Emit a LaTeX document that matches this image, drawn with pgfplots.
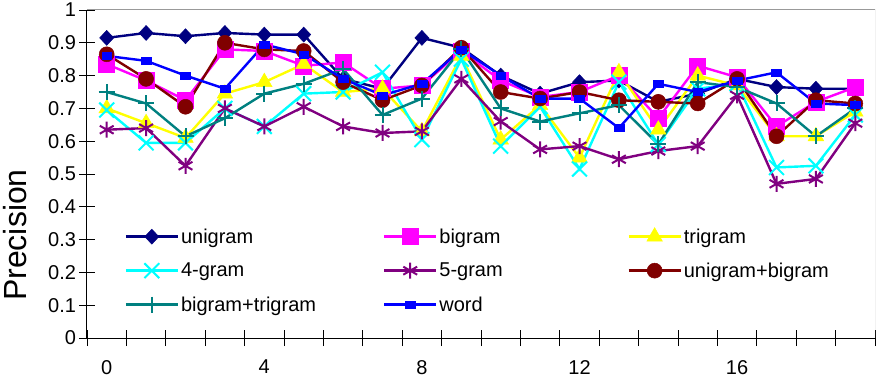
\documentclass[border=0pt]{standalone}
\usepackage{fontspec}
\setmainfont{Liberation Sans}
\usepackage{pgfplots}
\pgfplotsset{compat=1.18}
\usepackage{pgfplotstable}

\definecolor{cNavy}{RGB}{0,0,128}
\definecolor{cMag}{RGB}{255,0,255}
\definecolor{cYel}{RGB}{255,255,0}
\definecolor{cCyan}{RGB}{0,255,255}
\definecolor{cPurp}{RGB}{128,0,128}
\definecolor{cMaroon}{RGB}{128,0,0}
\definecolor{cTeal}{RGB}{0,128,128}
\definecolor{cBlue}{RGB}{0,0,255}

\pgfplotstableread{
x  uni   bi    tri   four  five  unibi bitri word
0  0.915 0.835 0.700 0.695 0.635 0.865 0.750 0.860
1  0.930 0.785 0.655 0.595 0.640 0.790 0.715 0.845
2  0.920 0.725 0.610 0.595 0.525 0.705 0.615 0.800
3  0.930 0.880 0.745 0.700 0.700 0.900 0.670 0.760
4  0.925 0.875 0.780 0.645 0.645 0.880 0.745 0.895
5  0.925 0.830 0.835 0.745 0.705 0.875 0.775 0.865
6  0.790 0.840 0.750 0.750 0.645 0.780 0.820 0.790
7  0.760 0.760 0.760 0.810 0.625 0.725 0.680 0.740
8  0.915 0.770 0.630 0.605 0.630 0.770 0.730 0.775
9  0.885 0.875 0.860 0.850 0.790 0.885 0.880 0.880
10 0.800 0.785 0.605 0.585 0.660 0.750 0.700 0.800
11 0.745 0.735 0.710 0.705 0.575 0.730 0.660 0.730
12 0.780 0.750 0.550 0.515 0.585 0.750 0.685 0.730
13 0.785 0.800 0.810 0.780 0.545 0.725 0.710 0.640
14 0.720 0.670 0.635 0.590 0.570 0.720 0.590 0.775
15 0.745 0.830 0.800 0.760 0.585 0.715 0.780 0.750
16 0.790 0.795 0.770 0.775 0.740 0.790 0.765 0.785
17 0.765 0.645 0.615 0.520 0.470 0.615 0.715 0.810
18 0.760 0.720 0.615 0.525 0.485 0.725 0.615 0.715
19 0.760 0.765 0.690 0.680 0.655 0.715 0.700 0.710
}\data

\begin{document}
\begin{tikzpicture}
\path[use as bounding box] (-87pt,-45pt) rectangle (790pt,338pt);
\begin{axis}[
  at={(0,0)}, anchor=south west,
  scale only axis, width=788pt, height=328pt,
  xmin=-0.5, xmax=19.5, ymin=0, ymax=1,
  axis x line*=bottom, axis y line*=left,
  axis line style={black, line width=1pt},
  xtick={0,4,8,12,16}, xticklabels={0,4,8,12,16},
  major x tick style={draw=none},
  minor xtick={-0.5,0.5,1.5,2.5,3.5,4.5,5.5,6.5,7.5,8.5,9.5,10.5,11.5,12.5,13.5,14.5,15.5,16.5,17.5,18.5,19.5},
  ytick={0,0.1,0.2,0.3,0.4,0.5,0.6,0.7,0.8,0.9,1},
  yticklabels={0,0.1,0.2,0.3,0.4,0.5,0.6,0.7,0.8,0.9,1},
  tick align=center,
  major tick length=15pt, minor tick length=16pt,
  tick style={black, line width=0.8pt},
  ticklabel style={font=\fontsize{20}{23}\selectfont},
  xticklabel style={yshift=-11pt},
  ylabel={Precision},
  ylabel style={font=\fontsize{32}{36}\selectfont, at={(axis description cs:-0.0914,0.314)}, anchor=center},
  legend columns=3,
  legend cell align=left,
  legend style={at={(axis cs:0.45,0.34)}, anchor=north west, draw=none, fill=none,
    font=\fontsize{20}{23}\selectfont, row sep=14pt, inner sep=0pt},
  legend image code/.code={\draw[mark repeat=2,mark phase=2,#1] plot coordinates {(0pt,0pt) (26pt,0pt) (52pt,0pt)};},
  every axis plot/.append style={line width=2.4pt},
]
\addplot[cNavy, mark=diamond*, mark size=7.5pt, mark options={solid, fill=cNavy, line width=0.5pt, xscale=1.25}] table[x=x,y=uni]{\data};
\addplot[cMag, mark=square*, mark size=8pt, mark options={solid, fill=cMag, line width=0.5pt}] table[x=x,y=bi]{\data};
\addplot[cYel, mark=triangle*, mark size=9pt, mark options={solid, fill=cYel, line width=0.5pt}] table[x=x,y=tri]{\data};
\addplot[cCyan, mark=x, mark size=10.5pt, mark options={solid, line width=2pt}] table[x=x,y=four]{\data};
\addplot[cPurp, mark=asterisk, mark size=8pt, mark options={solid, line width=2pt}] table[x=x,y=five]{\data};
\addplot[cMaroon, mark=*, mark size=7.5pt, mark options={solid, fill=cMaroon, line width=0.5pt}] table[x=x,y=unibi]{\data};
\addplot[cTeal, mark=+, mark size=8pt, mark options={solid, line width=2pt}] table[x=x,y=bitri]{\data};
\addplot[cBlue, mark=square*, mark size=3.5pt, mark options={solid, fill=cBlue, line width=0.5pt, xscale=1.4}] table[x=x,y=word]{\data};
\legend{\makebox[200pt][l]{unigram},\makebox[186pt][l]{bigram},trigram,
  \makebox[200pt][l]{4-gram},\makebox[186pt][l]{5-gram},unigram+bigram,
  \makebox[200pt][l]{bigram+trigram},\makebox[186pt][l]{word}}
\draw[gray!80, line width=1pt] (rel axis cs:0,1) -- (rel axis cs:1,1) -- (rel axis cs:1,0);
\end{axis}
\end{tikzpicture}
\end{document}
